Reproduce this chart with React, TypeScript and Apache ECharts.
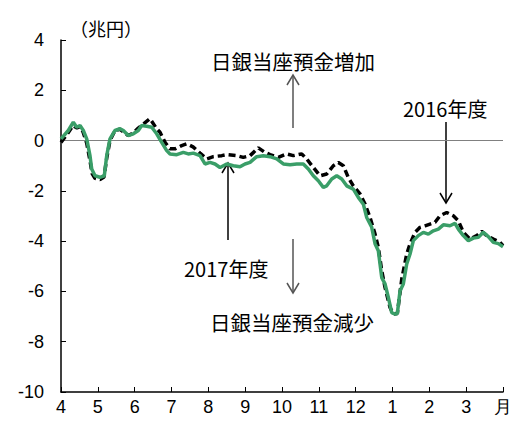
import React, { useEffect, useRef } from "react";
import * as echarts from "echarts";

// x positions are in months from April (0 = Apr 1, 12 = end of March)
const monthLabels = ["4", "5", "6", "7", "8", "9", "10", "11", "12", "1", "2", "3", "月"];
const yTicks = [-10, -8, -6, -4, -2, 0, 2, 4];

const fy2017X = [0, 0.198, 0.334, 0.426, 0.516, 0.606, 0.698, 0.787, 0.834, 0.923, 1.059, 1.176, 1.241, 1.33, 1.466, 1.602, 1.692, 1.827, 1.963, 2.099, 2.191, 2.327, 2.463, 2.598, 2.734, 2.87, 2.96, 3.142, 3.321, 3.456, 3.592, 3.774, 3.91, 4.046, 4.181, 4.317, 4.499, 4.678, 4.86, 4.996, 5.132, 5.314, 5.493, 5.675, 5.857, 6.036, 6.218, 6.4, 6.579, 6.715, 6.85, 6.986, 7.122, 7.214, 7.35, 7.486, 7.622, 7.757, 7.936, 8.072, 8.208, 8.3, 8.436, 8.526, 8.615, 8.708, 8.797, 8.887, 8.979, 9.069, 9.131, 9.204, 9.294, 9.386, 9.476, 9.566, 9.701, 9.837, 9.973, 10.109, 10.245, 10.38, 10.562, 10.698, 10.788, 10.923, 11.059, 11.195, 11.331, 11.466, 11.602, 11.738, 11.874, 12.0];
const fy2017Y = [0.07, 0.4, 0.73, 0.53, 0.6, 0.4, 0.07, -0.6, -1.13, -1.4, -1.46, -1.4, -0.6, 0.07, 0.4, 0.47, 0.4, 0.2, 0.27, 0.4, 0.6, 0.57, 0.53, 0.27, -0.07, -0.4, -0.53, -0.56, -0.47, -0.53, -0.5, -0.6, -0.93, -0.87, -0.93, -1.07, -0.93, -1.0, -1.04, -0.93, -0.87, -0.64, -0.6, -0.64, -0.73, -0.93, -0.96, -0.93, -0.93, -1.13, -1.4, -1.6, -1.86, -1.8, -1.53, -1.4, -1.53, -1.8, -1.93, -2.26, -2.53, -3.06, -3.45, -4.1, -4.38, -5.45, -5.7, -6.24, -6.84, -6.9, -6.88, -5.98, -5.7, -4.91, -4.51, -3.98, -3.78, -3.65, -3.72, -3.59, -3.52, -3.35, -3.39, -3.29, -3.52, -3.78, -3.98, -3.88, -3.85, -3.65, -3.82, -4.05, -4.1, -4.22];

const fy2016X = [0, 0.19, 0.326, 0.434, 0.516, 0.597, 0.698, 0.787, 0.842, 0.923, 1.059, 1.168, 1.241, 1.33, 1.466, 1.602, 1.692, 1.827, 1.963, 2.099, 2.226, 2.416, 2.598, 2.688, 2.824, 2.96, 3.095, 3.277, 3.413, 3.584, 3.774, 3.956, 4.135, 4.363, 4.499, 4.771, 4.95, 5.132, 5.357, 5.539, 5.675, 5.9, 6.128, 6.307, 6.535, 6.671, 6.85, 7.032, 7.214, 7.393, 7.529, 7.665, 7.801, 7.936, 8.118, 8.254, 8.39, 8.526, 8.615, 8.708, 8.797, 8.933, 9.023, 9.131, 9.251, 9.386, 9.476, 9.612, 9.748, 9.883, 10.019, 10.155, 10.29, 10.472, 10.651, 10.787, 10.923, 11.105, 11.287, 11.422, 11.558, 11.738, 11.919, 12.0];
const fy2016Y = [-0.07, 0.3, 0.6, 0.5, 0.55, 0.35, -0.1, -0.8, -1.3, -1.5, -1.55, -1.45, -0.7, 0.0, 0.4, 0.45, 0.35, 0.2, 0.3, 0.5, 0.65, 0.87, 0.47, 0.33, -0.07, -0.33, -0.33, -0.2, -0.13, -0.25, -0.5, -0.73, -0.64, -0.6, -0.56, -0.6, -0.67, -0.6, -0.29, -0.47, -0.56, -0.67, -0.53, -0.6, -0.53, -0.73, -1.07, -1.4, -1.33, -1.0, -0.87, -1.0, -1.47, -1.8, -2.12, -2.52, -3.06, -3.72, -4.25, -5.18, -5.84, -6.64, -6.9, -6.88, -5.51, -4.51, -4.11, -3.65, -3.45, -3.39, -3.32, -3.25, -2.99, -2.86, -2.99, -3.19, -3.65, -3.92, -3.78, -3.61, -3.78, -3.92, -4.05, -4.18];

const unitLabel = "（兆円）";
const upLabel = "日銀当座預金増加";
const downLabel = "日銀当座預金減少";
const label2016 = "2016年度";
const label2017 = "2017年度";

const numFont = "'Liberation Sans', Arial, sans-serif";
const cjkFont = "'Noto Sans CJK JP', sans-serif";

function arrow(x: number, y1: number, y2: number, color: string) {
  // y1 = tail, y2 = head
  const dir = y2 > y1 ? -1 : 1;
  return [
    { type: "line", shape: { x1: x, y1, x2: x, y2 }, style: { stroke: color, lineWidth: 1.5 } },
    {
      type: "polyline",
      shape: { points: [[x - 6, y2 + dir * 10], [x, y2], [x + 6, y2 + dir * 10]] },
      style: { stroke: color, lineWidth: 1.5, fill: "none" },
    },
  ];
}

function label(text: string, x: number, y: number, size: number) {
  return {
    type: "text",
    x,
    y,
    style: { text, fontSize: size, fontFamily: cjkFont, fill: "#000", align: "left", verticalAlign: "middle" },
  };
}

export default function App() {
  const ref = useRef<HTMLDivElement>(null);
  useEffect(() => {
    if (!ref.current) return;
    const chart = echarts.init(ref.current, undefined, { renderer: "svg" });
    const s2017 = fy2017X.map((x, i) => [x, fy2017Y[i]]);
    const s2016 = fy2016X.map((x, i) => [x, fy2016Y[i]]);
    chart.setOption({
      animation: false,
      backgroundColor: "#ffffff",
      grid: { left: 61, right: 12, top: 40, bottom: 31, containLabel: false },
      xAxis: {
        type: "value",
        min: 0,
        max: 12,
        interval: 1,
        axisLine: { onZero: false, lineStyle: { color: "#000", width: 1.5 } },
        axisTick: { inside: true, length: 5, lineStyle: { color: "#000" } },
        splitLine: { show: false },
        axisLabel: {
          color: "#000",
          fontSize: 18,
          fontFamily: numFont,
          margin: 6,
          formatter: (v: number) => monthLabels[Math.round(v)] ?? "",
        },
      },
      yAxis: {
        type: "value",
        min: yTicks[0],
        max: yTicks[yTicks.length - 1],
        interval: 2,
        axisLine: { show: true, lineStyle: { color: "#000", width: 1.5 } },
        axisTick: { show: true, inside: true, length: 5, lineStyle: { color: "#000" } },
        splitLine: { show: false },
        axisLabel: { color: "#000", fontSize: 18, fontFamily: numFont, margin: 17 },
      },
      series: [
        {
          name: label2016,
          type: "line",
          data: s2016,
          showSymbol: false,
          lineStyle: { color: "#000", width: 3.5, type: [7, 4] },
          z: 2,
          markLine: {
            silent: true,
            symbol: "none",
            label: { show: false },
            lineStyle: { color: "#808080", width: 1.2, type: "solid" },
            data: [{ yAxis: 0 }],
            z: 1,
          },
        },
        {
          name: label2017,
          type: "line",
          data: s2017,
          showSymbol: false,
          lineStyle: { color: "#3a9e68", width: 3.5 },
          z: 3,
        },
      ],
      graphic: [
        label(unitLabel, 70, 28, 18),
        label(upLabel, 211, 61, 20.5),
        label(downLabel, 210, 322, 20.5),
        label(label2016, 403, 108, 20),
        label(label2017, 184, 268, 20),
        ...arrow(293, 128, 75, "#555"),
        ...arrow(293, 239, 293, "#555"),
        ...arrow(446, 122, 203, "#000"),
        ...arrow(228, 240, 163, "#000"),
      ],
    });
    return () => chart.dispose();
  }, []);
  return <div ref={ref} style={{ position: "fixed", left: 0, top: 0, width: 515, height: 423 }} />;
}
